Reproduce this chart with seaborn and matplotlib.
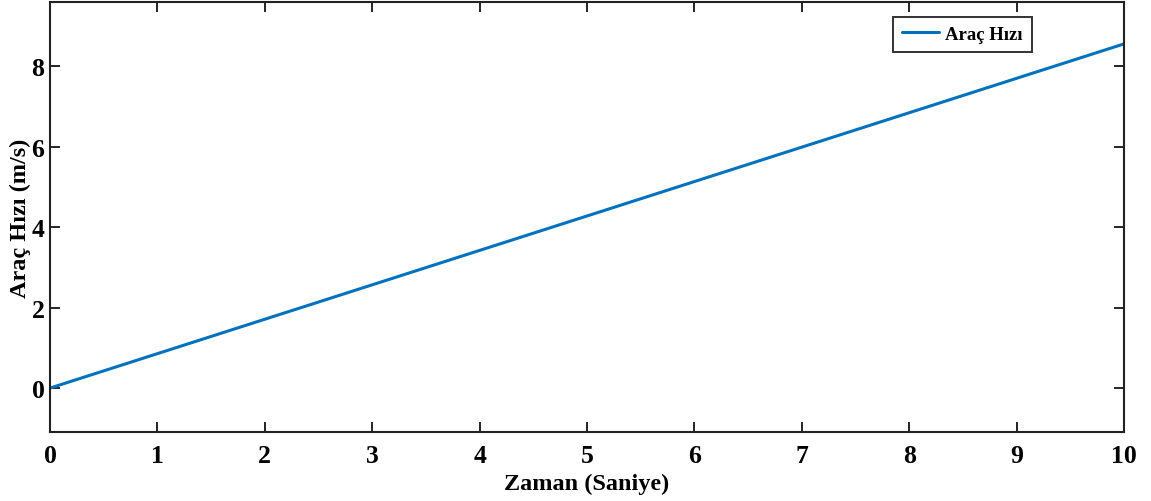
import matplotlib
matplotlib.use("Agg")
import matplotlib.pyplot as plt
import seaborn as sns
import pandas as pd

zaman = [0, 1, 2, 3, 4, 5, 6, 7, 8, 9, 10]
hiz = [0.0, 0.855, 1.71, 2.565, 3.42, 4.275, 5.13, 5.985, 6.84, 7.695, 8.55]
x_ticks = [0, 1, 2, 3, 4, 5, 6, 7, 8, 9, 10]
y_ticks = [0, 2, 4, 6, 8]

sns.set_style("white")
plt.rcParams['font.family'] = ['Liberation Serif', 'DejaVu Serif']
plt.rcParams['font.weight'] = 'bold'
plt.rcParams['text.color'] = 'black'
plt.rcParams['axes.labelcolor'] = 'black'

df = pd.DataFrame({"Zaman": zaman, "Hiz": hiz})

fig = plt.figure(figsize=(11.51, 5.02), dpi=100)
ax = fig.add_axes([0.0434, 0.1375, 0.9332, 0.8565])
sns.lineplot(data=df, x="Zaman", y="Hiz", ax=ax, color="#0072BD", linewidth=2.2, label="Araç Hızı")

ax.set_xlim(0, 10)
ax.set_ylim(-1.09, 9.59)
ax.set_xticks(x_ticks)
ax.set_yticks(y_ticks)
ax.tick_params(direction='in', length=7, width=1.2, top=True, right=True,
               bottom=True, left=True, labelsize=18.5, colors='black')
ax.tick_params(axis='x', pad=9)
ax.tick_params(axis='y', pad=4)
for lab in ax.get_xticklabels() + ax.get_yticklabels():
    lab.set_fontweight('bold')
for s in ax.spines.values():
    s.set_linewidth(1.5)
    s.set_color('#222222')
ax.set_xlabel("Zaman (Saniye)", fontsize=17.5, fontweight='bold', labelpad=4)
ax.set_ylabel("Araç Hızı (m/s)", fontsize=17.5, fontweight='bold', labelpad=0)

leg = ax.legend(loc='upper right', bbox_to_anchor=(0.923, 0.988), fontsize=13.5,
                frameon=True, fancybox=False, edgecolor='black', handlelength=2.0,
                handletextpad=0.3, borderpad=0.5, borderaxespad=0.5)
leg.get_frame().set_linewidth(1.4)
for t in leg.get_texts():
    t.set_fontweight('bold')

fig.savefig("out.png", dpi=100)
